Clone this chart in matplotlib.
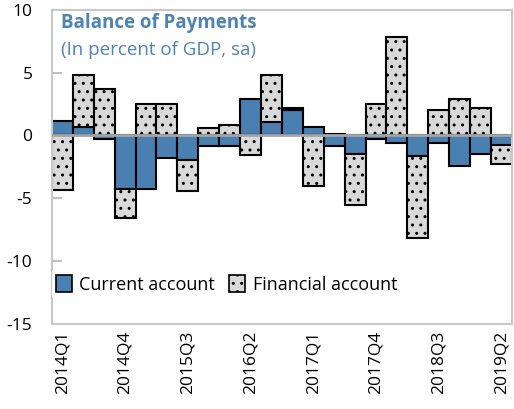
import numpy as np
import matplotlib.pyplot as plt
import matplotlib.patches as pc

plt.rcParams['font.family'] = ['Open Sans', 'DejaVu Sans']
plt.rcParams['hatch.linewidth'] = 1.0
plt.rcParams['hatch.color'] = '#333333'

quarters = ['2014Q1', '2014Q2', '2014Q3', '2014Q4', '2015Q1', '2015Q2', '2015Q3', '2015Q4',
            '2016Q1', '2016Q2', '2016Q3', '2016Q4', '2017Q1', '2017Q2', '2017Q3', '2017Q4',
            '2018Q1', '2018Q2', '2018Q3', '2018Q4', '2019Q1', '2019Q2']
current = [1.15, 0.7, -0.3, -4.3, -4.3, -1.8, -1.95, -0.8, -0.8, 2.9, 1.05,
           2.05, 0.7, -0.8, -1.5, -0.3, -0.6, -1.6, -0.6, -2.4, -1.5, -0.75]
financial = [-4.35, 4.1, 3.7, -2.25, 2.5, 2.5, -2.45, 0.6, 0.85, -1.55, 3.75,
             0.12, -4.05, 0.1, -4.0, 2.5, 7.8, -6.6, 2.05, 2.9, 2.2, -1.5]

blue = '#4a7fb1'
grey = '#d9d9d9'
txtblue = '#4f83b3'

ca = np.array(current)
fa = np.array(financial)
x = np.arange(len(quarters))
# excel style stacking: same sign stacks on top of the first series
fa_bottom = np.where(np.sign(fa) == np.sign(ca), ca, 0)

fig = plt.figure(figsize=(5.14, 4.09), dpi=100)
ax = fig.add_axes([0.101, 0.208, 0.895, 0.768])

ax.bar(x, ca, width=1.0, color=blue, edgecolor='black', linewidth=1.5, zorder=2)
ax.bar(x, fa, width=1.0, bottom=fa_bottom, color=grey, edgecolor='black',
       linewidth=1.5, hatch='..', zorder=2)
ax.axhline(0, color='#a6a6a6', linewidth=2, zorder=3)

ax.set_xlim(-0.5, len(quarters) - 0.5)
ax.set_ylim(-15, 10)
ax.set_yticks([10, 5, 0, -5, -10, -15])
ax.set_yticklabels(['10', '5', '0', '-5', '-10', '-15'])
ax.tick_params(axis='y', direction='in', length=7, color='#bfbfbf', width=1.5,
               labelsize=12.5, pad=14)
ax.set_xticks(x[::3])
ax.set_xticklabels(quarters[::3], rotation=90, fontsize=12.5)
ax.tick_params(axis='x', length=0, pad=5)
for s in ax.spines.values():
    s.set_color('#c8c8c8')
    s.set_linewidth(1.5)

ax.text(0.02, 0.99, 'Balance of Payments', transform=ax.transAxes, fontsize=13.5,
        fontweight='bold', color=txtblue, va='top')
ax.text(0.02, 0.90, '(In percent of GDP, sa)', transform=ax.transAxes, fontsize=13.5,
        color=txtblue, va='top')

handles = [pc.Patch(facecolor=blue, edgecolor='black', linewidth=1.2),
           pc.Patch(facecolor=grey, edgecolor='black', linewidth=1.2, hatch='..')]
ax.legend(handles, ['Current account', 'Financial account'], loc='upper left',
          bbox_to_anchor=(0.0, 0.168), ncol=2, frameon=True, framealpha=1,
          edgecolor='none', fontsize=13, handlelength=0.9, handleheight=1.1,
          handletextpad=0.4, columnspacing=0.8, borderpad=0.2, borderaxespad=0,
          fancybox=False)

fig.savefig('out.png', dpi=100)
